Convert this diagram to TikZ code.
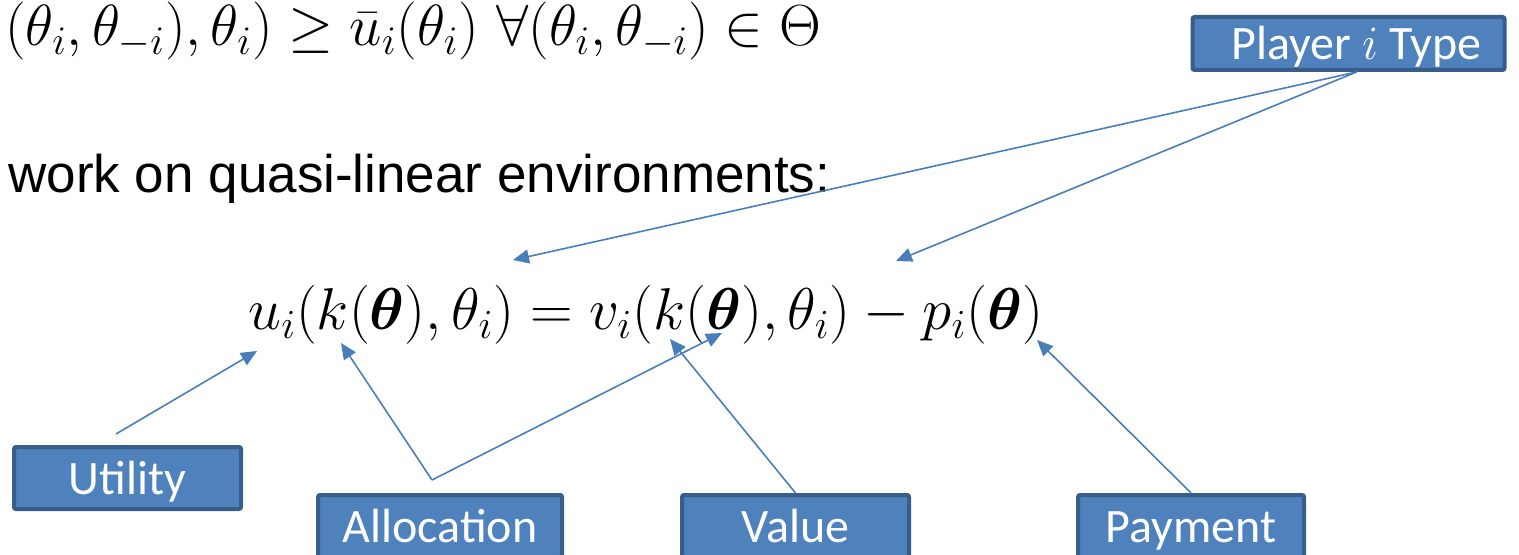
\documentclass[tikz,border=0pt]{standalone}
\usepackage{fix-cm}
\usepackage{amsmath,bm}
\usepackage{fontspec}
\newfontfamily\boxfont{Carlito}
\newfontfamily\bodyfont{Liberation Sans}
\usetikzlibrary{arrows.meta}
\definecolor{boxfill}{HTML}{4F81BD}
\definecolor{boxline}{HTML}{385D8A}
\definecolor{arrowblue}{HTML}{4A7EBB}
\newcommand{\eqsize}{\fontsize{29.5}{34}\selectfont}

\begin{document}
\begin{tikzpicture}[x=0.5pt,y=-0.5pt,>={Triangle[length=8pt,width=7pt]},
    label box/.style={draw=boxline,line width=2pt,fill=boxfill,text=white,rounded corners=1pt,inner sep=0pt,text height=19pt,text depth=3pt,font=\boxfont\fontsize{24}{28}\selectfont},
    pointer/.style={->,draw=arrowblue,fill=arrowblue,line width=0.8pt}]
  \useasboundingbox (0,0) rectangle (1519,555);
  % text lines
  \node[anchor=base west,inner sep=0pt,font=\fontsize{29}{34}\selectfont] (cond) at (5,46) {$(\theta_i,\theta_{-i}),\theta_i)\geq\bar{u}_i(\theta_i)\ \forall(\theta_i,\theta_{-i})\in\Theta$};
  \node[anchor=base west,inner sep=0pt,font=\bodyfont\fontsize{26.5}{31}\selectfont] (intro) at (8,193) {work on quasi-linear environments:};
  \node[anchor=base west,inner sep=0pt,font=\eqsize] (eq) at (248,330) {$u_i(k(\bm{\theta}),\theta_i)=v_i(k(\bm{\theta}),\theta_i)-p_i(\bm{\theta})$};
  % labels
  \node[label box,minimum width=156pt,minimum height=26.5pt] (ptype) at (1348.5,43.5) {\hspace{8pt}Player $i$ Type};
  \node[label box,minimum width=113.5pt,minimum height=31pt] (util) at (127.5,478) {Utility};
  \node[label box,minimum width=122pt,minimum height=31pt] (alloc) at (440,526) {Allocation};
  \node[label box,minimum width=113.5pt,minimum height=31pt] (val) at (795.5,526) {Value};
  \node[label box,minimum width=113pt,minimum height=31pt] (pay) at (1191,526) {Payment};
  % arrow heads on the equation
  \coordinate (lhs) at (513,260);
  \coordinate (rhs) at (896,261);
  \coordinate (uhead) at (257,351);
  \coordinate (khead) at (341,343);
  \coordinate (thhead) at (722,333);
  \coordinate (vhead) at (670,339);
  \coordinate (phead) at (1037,340);
  \coordinate (fork) at (432,480);
  \draw[pointer] ([xshift=4pt]ptype.south) -- (lhs);
  \draw[pointer] ([xshift=4pt]ptype.south) -- (rhs);
  \draw[pointer] ([xshift=-5.75pt,yshift=5.5pt]util.north) -- (uhead);
  \draw[pointer] (fork) -- (khead);
  \draw[pointer] (fork) -- (thhead);
  \draw[pointer] (val.north) -- (vhead);
  \draw[pointer] (pay.north) -- (phead);
\end{tikzpicture}
\end{document}
